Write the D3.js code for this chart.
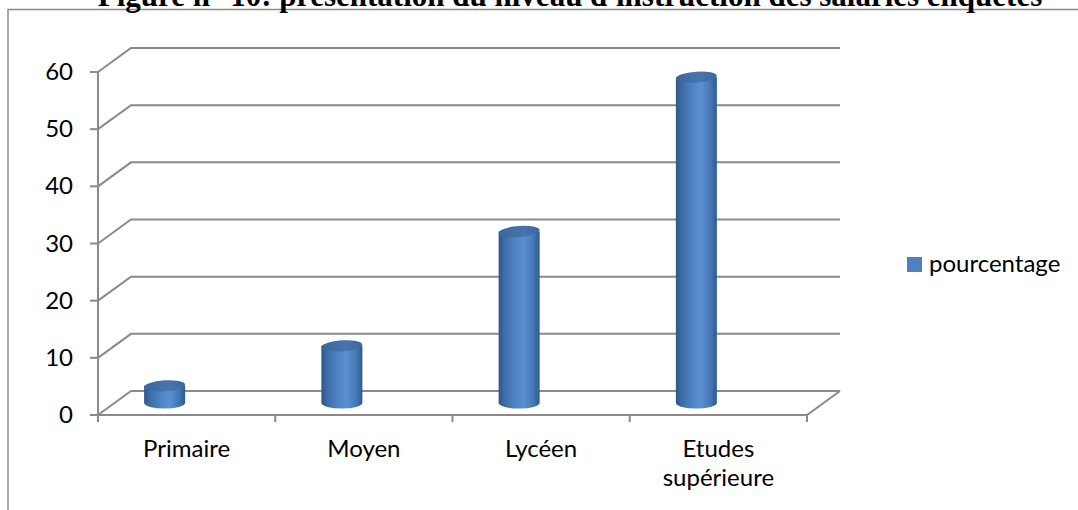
<!DOCTYPE html>
<html>
<head>
<meta charset="utf-8">
<script src="https://cdn.jsdelivr.net/npm/d3@7"></script>
<style>
  html, body { margin: 0; padding: 0; background: #fff; }
  svg { display: block; }
</style>
</head>
<body>
<svg id="chart" width="1078" height="510"></svg>
<script>
// Niveau d'instruction des salariés enquêtés (%)
const categories = ["Primaire", "Moyen", "Lycéen", "Etudes\nsupérieure"];
const values = [3, 10, 30, 57];
const yTicks = [0, 10, 20, 30, 40, 50, 60];
const seriesName = "pourcentage";
const title = "Figure n° 10: présentation du niveau d'instruction des salariés enquêtés";

const svg = d3.select("#chart");
const W = 1078, H = 510;
const labelFont = "Lato, 'Open Sans', sans-serif";
const gridColor = "#8a8a8a";

// 3D box: front plane plus a depth offset toward the back wall
const depth = { dx: 33, dy: -24 };
const x = d3.scaleBand().domain(categories).range([98, 807]);
const y = d3.scaleLinear().domain([0, 60]).range([415, 72]);

// outer frame
svg.append("path")
  .attr("d", `M8,${H} L8,9.5 L${W},9.5`)
  .attr("fill", "none").attr("stroke", "#8c8c8c").attr("stroke-width", 1.5);

// title (partly above the visible area)
svg.append("text")
  .attr("x", 570).attr("y", 6)
  .attr("text-anchor", "middle")
  .attr("font-family", "'Liberation Serif', 'Times New Roman', serif")
  .attr("font-weight", "bold").attr("font-size", 31)
  .text(title);

const [x0, x1] = x.range();
const g = svg.append("g");

// side-wall diagonals and back-wall gridlines
yTicks.forEach(v => {
  const yf = y(v);
  g.append("path")
    .attr("d", `M${x0},${yf} L${x0 + depth.dx},${yf + depth.dy} L${x1 + depth.dx},${yf + depth.dy}`)
    .attr("fill", "none").attr("stroke", gridColor).attr("stroke-width", 2);
});

// floor front edge and right diagonal
g.append("path")
  .attr("d", `M${x0},${y(0)} L${x1},${y(0)} L${x1 + depth.dx},${y(0) + depth.dy}`)
  .attr("fill", "none").attr("stroke", gridColor).attr("stroke-width", 2);

// vertical axis with ticks
g.append("line")
  .attr("x1", x0).attr("x2", x0).attr("y1", y(60)).attr("y2", y(0) + 7)
  .attr("stroke", gridColor).attr("stroke-width", 2);
yTicks.forEach(v => {
  g.append("line")
    .attr("x1", x0 - 8).attr("x2", x0).attr("y1", y(v)).attr("y2", y(v))
    .attr("stroke", gridColor).attr("stroke-width", 2);
  g.append("text")
    .attr("x", 73).attr("y", y(v) + 8)
    .attr("text-anchor", "end")
    .attr("font-family", labelFont).attr("font-size", 24).attr("fill", "#000")
    .text(v);
});

// category ticks at band boundaries
const bounds = categories.map(c => x(c)).concat([x1]);
bounds.forEach(b => {
  g.append("line")
    .attr("x1", b).attr("x2", b).attr("y1", y(0)).attr("y2", y(0) + 7)
    .attr("stroke", gridColor).attr("stroke-width", 2);
});

// category labels
categories.forEach(c => {
  const lines = c.split("\n");
  const t = g.append("text")
    .attr("text-anchor", "middle")
    .attr("font-family", labelFont).attr("font-size", 24).attr("fill", "#000");
  lines.forEach((ln, i) => {
    t.append("tspan")
      .attr("x", x(c) + x.bandwidth() / 2)
      .attr("y", 457 + i * 29)
      .text(ln);
  });
});

// cylinder shading
const defs = svg.append("defs");
const bodyGrad = defs.append("linearGradient").attr("id", "cylBody")
  .attr("x1", "0%").attr("x2", "100%").attr("y1", "0%").attr("y2", "0%");
[["0%", "#2c5688"], ["12%", "#3b6aa3"], ["40%", "#4f84c4"], ["62%", "#5a8fd1"],
 ["85%", "#4577b4"], ["100%", "#2e5a8e"]]
  .forEach(([o, c]) => bodyGrad.append("stop").attr("offset", o).attr("stop-color", c));
const capGrad = defs.append("linearGradient").attr("id", "cylTop")
  .attr("x1", "0%").attr("x2", "100%").attr("y1", "0%").attr("y2", "0%");
[["0%", "#3a669c"], ["60%", "#4675ad"], ["100%", "#3a679e"]]
  .forEach(([o, c]) => capGrad.append("stop").attr("offset", o).attr("stop-color", c));

// bars as cylinders standing in the middle of the depth
const rx = 20.5, ry = 5.5;
const baseY = y(0) + depth.dy / 2;
const barShift = -22;
const bars = g.append("g");
categories.forEach((c, i) => {
  const cx = x(c) + x.bandwidth() / 2 + barShift;
  const topY = baseY - (y(0) - y(values[i]));
  const gb = bars.append("g");
  gb.append("path")
    .attr("d", `M${cx - rx},${topY} L${cx - rx},${baseY} A${rx},${ry} 0 0 0 ${cx + rx},${baseY} L${cx + rx},${topY} Z`)
    .attr("fill", "url(#cylBody)");
  gb.append("ellipse")
    .attr("cx", cx).attr("cy", topY).attr("rx", rx).attr("ry", ry)
    .attr("transform", `rotate(-4, ${cx}, ${topY})`)
    .attr("fill", "url(#cylTop)");
});

// legend
const lg = svg.append("g");
lg.append("rect").attr("x", 907).attr("y", 257).attr("width", 15).attr("height", 15)
  .attr("fill", "#4f81bd");
lg.append("text").attr("x", 929).attr("y", 272)
  .attr("font-family", labelFont).attr("font-size", 24).attr("fill", "#000")
  .text(seriesName);
</script>
</body>
</html>
